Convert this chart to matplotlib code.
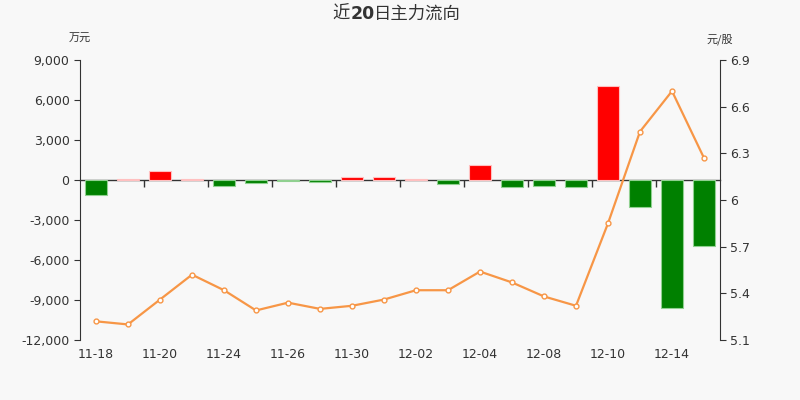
import matplotlib
matplotlib.use('Agg')
import matplotlib.pyplot as plt
from matplotlib.ticker import FuncFormatter

plt.rcParams['font.family'] = ['DejaVu Sans', 'Noto Sans CJK SC']

# data
dates = ['11-18', '11-19', '11-20', '11-23', '11-24', '11-25', '11-26', '11-27',
         '11-30', '12-01', '12-02', '12-03', '12-04', '12-07', '12-08', '12-09',
         '12-10', '12-11', '12-14', '12-15']
flow = [-1100, 60, 650, 100, -450, -200, -100, -170, 250, 200,
        80, -280, 1100, -500, -420, -520, 7050, -2020, -9580, -4920]
price = [5.22, 5.20, 5.36, 5.52, 5.42, 5.29, 5.34, 5.30, 5.32, 5.36,
         5.42, 5.42, 5.54, 5.47, 5.38, 5.32, 5.85, 6.44, 6.70, 6.27]

bg = '#f8f8f8'
txt = '#333333'
cjk = ['Noto Sans CJK SC', 'DejaVu Sans']

fig = plt.figure(figsize=(8, 4), dpi=100, facecolor=bg)
ax = fig.add_axes([0.1, 0.15, 0.8, 0.70], facecolor=bg)
ax2 = ax.twinx()

x = list(range(len(dates)))
colors = ['#ff0000' if v >= 0 else '#008000' for v in flow]
edges = ['#ffc0c0' if v >= 0 else '#90d090' for v in flow]
ax.bar(x, flow, width=0.68, color=colors, edgecolor=edges, linewidth=0.8, zorder=2)

ax2.plot(x, price, color='#f79646', lw=1.6, marker='o', markersize=3.5,
         markerfacecolor='white', markeredgecolor='#f79646', markeredgewidth=1, zorder=3)

ymin, ymax = -12000, 9000
ax.set_ylim(ymin, ymax)
ax.set_yticks(range(ymin, ymax + 1, 3000))
ax.yaxis.set_major_formatter(FuncFormatter(lambda v, p: f'{int(v):,}'))
ax2.set_ylim(5.1, 6.9)
ax2.set_yticks([5.1, 5.4, 5.7, 6.0, 6.3, 6.6, 6.9])
ax2.yaxis.set_major_formatter(FuncFormatter(lambda v, p: f'{v:g}'))

ax.set_xlim(-0.5, len(dates) - 0.5)
ax.set_xticks(x[::2])
ax.set_xticklabels(dates[::2])
ax.tick_params(axis='x', length=0, pad=6, labelsize=9, labelcolor=txt)

# zero line with boundary ticks pointing down
zero_pos = (0 - ymin) / (ymax - ymin)
sec = ax.secondary_xaxis(zero_pos)
sec.set_xticks([i + 1.5 for i in range(0, len(dates) - 2, 2)])
sec.set_xticklabels([])
sec.xaxis.set_ticks_position('bottom')
sec.tick_params(axis='x', direction='out', length=5, width=1, color=txt)
for s in sec.spines.values():
    s.set_color(txt)
    s.set_linewidth(1)

for a in (ax, ax2):
    a.spines['top'].set_visible(False)
    a.spines['bottom'].set_visible(False)
    a.spines['left'].set_color(txt)
    a.spines['right'].set_color(txt)
    a.tick_params(axis='y', direction='out', length=4, color=txt, labelsize=9, labelcolor=txt)
ax2.spines['left'].set_visible(False)
ax.spines['right'].set_visible(False)

# title: CJK medium, digits bold
t1 = fig.text(0.416, 0.965, '近', ha='left', va='center', fontsize=12.5,
              fontweight='medium', color=txt, family=cjk)
t2 = ax.annotate('20', xy=(1, 0), xycoords=t1, va='bottom', ha='left', fontsize=12.5,
                 fontweight='bold', color=txt, family='DejaVu Sans')
ax.annotate('日主力流向', xy=(1, 0), xycoords=t2, va='bottom', ha='left', fontsize=12.5,
            fontweight='medium', color=txt, family=cjk)

fig.text(0.1, 0.902, '万元', ha='center', va='center', fontsize=8, color=txt, family=cjk)
fig.text(0.9, 0.902, '元/股', ha='center', va='center', fontsize=8, color=txt, family=cjk)

fig.savefig('out.png', dpi=100, facecolor=bg)
